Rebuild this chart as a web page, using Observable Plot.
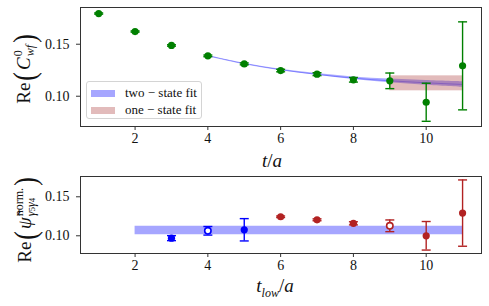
<!DOCTYPE html>
<html>
<head>
<meta charset="utf-8">
<script src="https://cdn.jsdelivr.net/npm/d3@7"></script>
<script src="https://cdn.jsdelivr.net/npm/@observablehq/plot@0.6"></script>
<style>
  body { margin: 0; background: white; }
  #wrap { position: relative; width: 489px; height: 306px; font-family: "Liberation Serif", "DejaVu Serif", serif; color: #111; overflow: hidden; }
  #wrap svg { position: absolute; left: 0; }
  #wrap svg text { font-family: "Liberation Serif", "DejaVu Serif", serif !important; }
  .lab { position: absolute; white-space: nowrap; transform: translate(-50%, -50%); font-size: 19px; }
  .yl { transform: translate(-50%, -50%) rotate(-90deg); display: flex; align-items: center; }
  .p { font-size: 32px; line-height: 30px; margin: 0 1px; transform: scaleX(0.8); display: inline-block; }
  .st { display: inline-flex; flex-direction: column; font-size: 12px; line-height: 12px; margin-left: 1px; }
  .st span { display: block; }
  .st small { font-size: 9px; }
  #legend { position: absolute; left: 86px; top: 81px; width: 116px; height: 38px; background: rgba(255,255,255,0.8);
            border: 1px solid #d4d4d4; border-radius: 3px; box-sizing: border-box; font-size: 13px; }
  #legend .patch { position: absolute; left: 4px; width: 24px; height: 7px; }
  #legend .txt { position: absolute; left: 38px; transform: translateY(-50%); white-space: nowrap; }
</style>
</head>
<body>
<div id="wrap"></div>
<script>
// ---------- data ----------
const tTop   = [1, 2, 3, 4, 5, 6, 7, 8, 9, 10, 11];
const cTop   = [0.1795, 0.1622, 0.1488, 0.1388, 0.1311, 0.1247, 0.1212, 0.1158, 0.1148, 0.0942, 0.1292];
const cErr   = [0.0006, 0.0006, 0.0007, 0.0008, 0.0009, 0.0012, 0.0014, 0.0022, 0.0075, 0.0183, 0.0423];

const fitT   = [4, 5, 6, 7, 8, 9, 10, 11];
const fitC   = [0.1388, 0.1312, 0.1254, 0.1210, 0.1174, 0.1148, 0.1129, 0.1113];
const fitErr = [0.0004, 0.0005, 0.0006, 0.0008, 0.0012, 0.0018, 0.0023, 0.0027];

const oneT   = [9, 11];
const oneC   = 0.1124;
const oneErr = 0.0072;

const tBlue  = [3, 4, 5];
const vBlue  = [0.0970, 0.1064, 0.1077];
const eBlue  = [0.0032, 0.0055, 0.0143];
const openBlue = [false, true, false];

const tRed   = [6, 7, 8, 9, 10, 11];
const vRed   = [0.1244, 0.1205, 0.1160, 0.1128, 0.1000, 0.1291];
const eRed   = [0.0010, 0.0012, 0.0020, 0.0075, 0.0183, 0.0425];
const openRed = [false, false, false, true, false, false];

const bandT  = [2, 11];
const bandV  = 0.1068;
const bandE  = 0.0054;

const xTicks = [2, 4, 6, 8, 10];
const yTicks = [0.10, 0.15];

// ---------- tables ----------
const topPts = tTop.map((t, i) => ({t, v: cTop[i], e: cErr[i]}));
const fit = fitT.map((t, i) => ({t, v: fitC[i], e: fitErr[i]}));
const one = [{t1: oneT[0], t2: oneT[1], lo: oneC - oneErr, hi: oneC + oneErr}];
const blue = tBlue.map((t, i) => ({t, v: vBlue[i], e: eBlue[i], open: openBlue[i]}));
const red = tRed.map((t, i) => ({t, v: vRed[i], e: eRed[i], open: openRed[i]}));
const band = [{t: bandT[0], lo: bandV - bandE, hi: bandV + bandE}, {t: bandT[1], lo: bandV - bandE, hi: bandV + bandE}];

const cap = { draw(ctx) { ctx.moveTo(-4.5, 0); ctx.lineTo(4.5, 0); } };

function errMarks(data, color) {
  return [
    Plot.ruleX(data, {x: "t", y1: d => d.v - d.e, y2: d => d.v + d.e, stroke: color, strokeWidth: 1.4}),
    Plot.dot(data, {x: "t", y: d => d.v + d.e, symbol: cap, r: 3, stroke: color, fill: "none", strokeWidth: 1.4}),
    Plot.dot(data, {x: "t", y: d => d.v - d.e, symbol: cap, r: 3, stroke: color, fill: "none", strokeWidth: 1.4}),
    Plot.dot(data.filter(d => !d.open), {x: "t", y: "v", r: 3.6, fill: color, stroke: "none"}),
    Plot.dot(data.filter(d => d.open), {x: "t", y: "v", r: 3.2, fill: "white", stroke: color, strokeWidth: 1.6})
  ];
}

function axes() {
  return [
    Plot.frame({stroke: "#333", strokeWidth: 1}),
    Plot.axisX({ticks: xTicks, tickSize: 4, tickPadding: 3, label: null, fontSize: 14, stroke: "#333"}),
    Plot.axisY({ticks: yTicks, tickFormat: d3.format(".2f"), tickSize: 4, tickPadding: 7, label: null, fontSize: 14, stroke: "#333"})
  ];
}

const style = {fontFamily: "'Liberation Serif', 'DejaVu Serif', serif", fontSize: "14px", color: "#111", background: "transparent"};

const topPlot = Plot.plot({
  width: 489, height: 170,
  marginTop: 7, marginBottom: 44, marginLeft: 80, marginRight: 8,
  x: {domain: [0.5, 11.52]},
  y: {domain: [0.0709, 0.1853]},
  style,
  marks: [
    Plot.areaY(fit, {x: "t", y1: d => d.v - d.e, y2: d => d.v + d.e, fill: "blue", fillOpacity: 0.33, curve: "catmull-rom"}),
    Plot.lineY(fit, {x: "t", y: "v", stroke: "blue", strokeOpacity: 0.3, strokeWidth: 1, curve: "catmull-rom"}),
    Plot.rect(one, {x1: "t1", x2: "t2", y1: "lo", y2: "hi", fill: "brown", fillOpacity: 0.32}),
    ...errMarks(topPts, "green"),
    ...axes()
  ]
});
topPlot.style.top = "0px";

const botPlot = Plot.plot({
  width: 489, height: 136,
  marginTop: 6, marginBottom: 53, marginLeft: 80, marginRight: 8,
  x: {domain: [0.5, 11.52]},
  y: {domain: [0.0773, 0.176]},
  style,
  marks: [
    Plot.areaY(band, {x: "t", y1: "lo", y2: "hi", fill: "blue", fillOpacity: 0.35}),
    ...errMarks(blue, "blue"),
    ...errMarks(red, "firebrick"),
    ...axes()
  ]
});
botPlot.style.top = "170px";

const wrap = document.getElementById("wrap");
wrap.appendChild(topPlot);
wrap.appendChild(botPlot);

wrap.insertAdjacentHTML("beforeend", `
  <div class="lab yl" style="left:24px;top:68px">Re<span class="p">(</span><i>C</i><span class="st"><span>0</span><span><i>wf</i></span></span><span class="p">)</span></div>
  <div class="lab yl" style="left:25px;top:219px">Re<span class="p">(</span><i>ψ̃</i><span class="st"><span>norm.</span><span><i>γ</i><small>5</small><i>γ</i><small>4</small></span></span><span class="p">)</span></div>
  <div class="lab" style="left:272px;top:161px"><i>t</i>/<i>a</i></div>
  <div class="lab" style="left:275px;top:288px"><i>t</i><sub style="font-size:12px"><i>low</i></sub>/<i>a</i></div>
  <div id="legend">
    <div class="patch" style="top:8px;background:rgba(0,0,255,0.35)"></div>
    <div class="txt" style="top:11px">two − state fit</div>
    <div class="patch" style="top:25px;background:rgba(165,42,42,0.32)"></div>
    <div class="txt" style="top:28px">one − state fit</div>
  </div>
`);
</script>
</body>
</html>
